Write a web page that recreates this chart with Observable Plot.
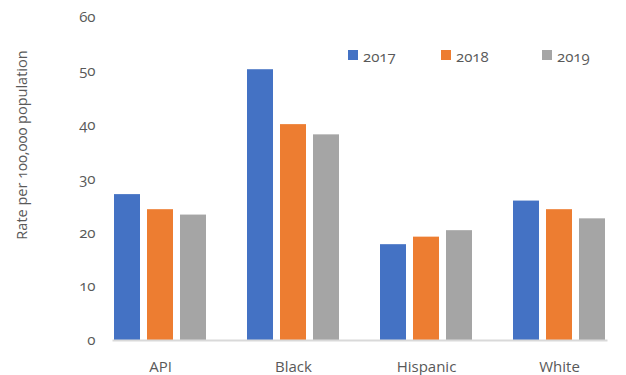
<!DOCTYPE html>
<html>
<head>
<meta charset="utf-8">
<script src="https://cdn.jsdelivr.net/npm/d3@7"></script>
<script src="https://cdn.jsdelivr.net/npm/@observablehq/plot@0.6"></script>
<style>
  body { margin: 0; background: #fff; }
  #wrap { position: relative; width: 626px; height: 375px; font-family: "Open Sans", sans-serif; color: #595959; font-variant-numeric: oldstyle-nums; }
  #legend { position: absolute; top: 45px; left: 0; width: 626px; height: 22px; }
  .item { position: absolute; top: 0; font-size: 15px; line-height: 22px; white-space: nowrap; }
  .sw { position: absolute; top: 5px; width: 10px; height: 10px; }
  .item span.t { position: absolute; left: 15px; top: 0; }
  svg text { font-variant-numeric: oldstyle-nums; }
</style>
</head>
<body>
<div id="wrap"><div id="legend"></div></div>
<script>
const categories = ["API", "Black", "Hispanic", "White"];
const years = ["2017", "2018", "2019"];
const v2017 = [27.1, 50.3, 17.8, 25.9];
const v2018 = [24.3, 40.1, 19.2, 24.3];
const v2019 = [23.3, 38.2, 20.4, 22.6];
const yTicks = [0, 10, 20, 30, 40, 50, 60];
const colors = ["#4472C4", "#ED7D31", "#A5A5A5"];
const yLabel = "Rate per 100,000 population";

const series = [v2017, v2018, v2019];
const data = [];
categories.forEach((c, i) => years.forEach((y, j) => data.push({cat: c, year: y, value: series[j][i]})));

const chart = Plot.plot({
  width: 626,
  height: 375,
  marginLeft: 92,
  marginRight: 0,
  marginTop: 17,
  marginBottom: 35,
  style: { fontFamily: "Open Sans, sans-serif", fontSize: "15px", color: "#595959", background: "#fff" },
  fx: { domain: categories, paddingInner: 0.295, paddingOuter: 0.1475, label: null },
  x: { domain: years, paddingInner: 0.2, paddingOuter: 0, axis: null },
  y: { domain: [0, 60], label: null },
  color: { domain: years, range: colors },
  marks: [
    Plot.barY(data, { fx: "cat", x: "year", y: "value", fill: "year" }),
    Plot.frame({ anchor: "bottom", facet: "super", stroke: "#d9d9d9", strokeWidth: 2 }),
    Plot.axisY({ ticks: yTicks, tickSize: 0, tickPadding: 18, label: null, fontSize: 15 }),
    Plot.axisFx({ anchor: "bottom", tickSize: 0, tickPadding: 21, label: null, fontSize: 15 }),
    Plot.text([yLabel], { facet: "super", frameAnchor: "left", textAnchor: "middle", rotate: -90, dx: -91, dy: -34, fontSize: 14.5, fill: "#595959" })
  ]
});
document.getElementById("wrap").prepend(chart);

const legendX = [348, 441, 542];
const leg = document.getElementById("legend");
years.forEach((y, i) => {
  const it = document.createElement("div");
  it.className = "item";
  it.style.left = legendX[i] + "px";
  it.innerHTML = `<div class="sw" style="background:${colors[i]}"></div><span class="t">${y}</span>`;
  leg.appendChild(it);
});
</script>
</body>
</html>
